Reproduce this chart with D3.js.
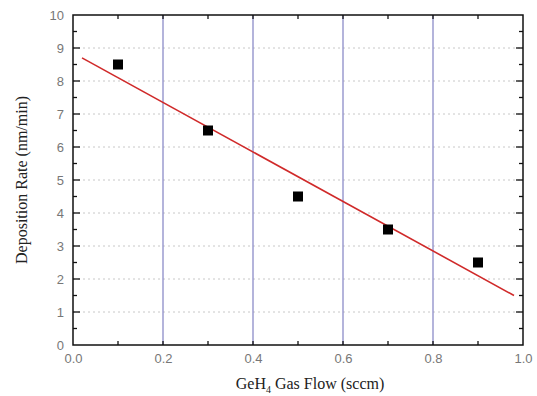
<!DOCTYPE html>
<html>
<head>
<meta charset="utf-8">
<script src="https://cdn.jsdelivr.net/npm/d3@7"></script>
<style>
  body { margin: 0; background: #fff; }
  .tick text { font-family: "Liberation Sans", Arial, sans-serif; font-size: 13px; fill: #777; }
  .title { font-family: "Liberation Serif", "Times New Roman", serif; font-size: 16px; fill: #222; }
</style>
</head>
<body>
<div id="chart"></div>
<script>
// data
var gasFlow = [0.1, 0.3, 0.5, 0.7, 0.9];
var depRate = [8.5, 6.5, 4.5, 3.5, 2.5];
// fitted line endpoints
var fitX = [0.02, 0.98];
var fitY = [8.7, 1.5];
var xTicks = [0, 0.2, 0.4, 0.6, 0.8, 1.0];
var yTicks = [0, 1, 2, 3, 4, 5, 6, 7, 8, 9, 10];
var blueLines = [0.2, 0.4, 0.6, 0.8];

var margin = { left: 73, right: 14, top: 15, bottom: 51 };
var W = 537, H = 396;
var width = W - margin.left - margin.right;
var height = H - margin.top - margin.bottom;

var svg = d3.select("#chart").append("svg")
  .attr("width", W).attr("height", H);
var g = svg.append("g")
  .attr("transform", "translate(" + margin.left + "," + margin.top + ")");

var x = d3.scaleLinear().domain([0, 1]).range([0, width]);
var y = d3.scaleLinear().domain([0, 10]).range([height, 0]);

// dotted horizontal grid
g.selectAll(".hgrid")
  .data(yTicks.filter(function(d) { return d > 0 && d < 10; }))
  .enter().append("line")
  .attr("x1", 0).attr("x2", width)
  .attr("y1", function(d) { return y(d); })
  .attr("y2", function(d) { return y(d); })
  .attr("stroke", "#c8c8c8")
  .attr("stroke-width", 1)
  .attr("stroke-dasharray", "2,3");

// blue vertical lines
g.selectAll(".vgrid")
  .data(blueLines)
  .enter().append("line")
  .attr("x1", function(d) { return x(d); })
  .attr("x2", function(d) { return x(d); })
  .attr("y1", 0).attr("y2", height)
  .attr("stroke", "#8c8cc8")
  .attr("stroke-width", 1.3);

// axes with inward ticks
var xMinor = d3.range(1, 10).map(function(i) { return i / 10; });
var yMinor = d3.range(1, 20).map(function(i) { return i / 2; });

function tickMarks(sel, vals, fn, len) {
  sel.selectAll(null).data(vals).enter().append("line")
    .each(function(d) { fn(d3.select(this), d, len); })
    .attr("stroke", "#111").attr("stroke-width", 1.3);
}
var axG = g.append("g");
tickMarks(axG, xMinor, function(s, d, l) {
  s.attr("x1", x(d)).attr("x2", x(d)).attr("y1", height).attr("y2", height - l);
}, 4);
tickMarks(axG, xMinor, function(s, d, l) {
  s.attr("x1", x(d)).attr("x2", x(d)).attr("y1", 0).attr("y2", l);
}, 4);
tickMarks(axG, yMinor, function(s, d, l) {
  s.attr("x1", 0).attr("x2", (d % 1 === 0 ? 7 : 4)).attr("y1", y(d)).attr("y2", y(d));
}, 4);
tickMarks(axG, yMinor, function(s, d, l) {
  s.attr("x1", width).attr("x2", width - (d % 1 === 0 ? 7 : 4)).attr("y1", y(d)).attr("y2", y(d));
}, 4);

var xAxis = d3.axisBottom(x).tickValues(xTicks).tickSize(0).tickPadding(9)
  .tickFormat(d3.format(".1f"));
var yAxis = d3.axisLeft(y).tickValues(yTicks).tickSize(0).tickPadding(9)
  .tickFormat(d3.format("d"));

g.append("g").attr("transform", "translate(0," + height + ")").call(xAxis)
  .call(function(a) { a.select(".domain").remove(); });
g.append("g").call(yAxis)
  .call(function(a) { a.select(".domain").remove(); });

// frame
g.append("rect")
  .attr("width", width).attr("height", height)
  .attr("fill", "none").attr("stroke", "#111").attr("stroke-width", 1.5);

// fit line
var line = d3.line().x(function(d) { return x(d[0]); }).y(function(d) { return y(d[1]); });
g.append("path")
  .datum(d3.zip(fitX, fitY))
  .attr("d", line)
  .attr("fill", "none")
  .attr("stroke", "#d02a2a")
  .attr("stroke-width", 1.6);

// points
var sq = 10;
g.selectAll(".pt")
  .data(d3.zip(gasFlow, depRate))
  .enter().append("rect")
  .attr("x", function(d) { return x(d[0]) - sq / 2; })
  .attr("y", function(d) { return y(d[1]) - sq / 2; })
  .attr("width", sq).attr("height", sq)
  .attr("fill", "#000");

// axis titles
var xt = svg.append("text").attr("class", "title")
  .attr("x", margin.left + width / 2 + 12).attr("y", 389)
  .attr("text-anchor", "middle");
xt.append("tspan").text("GeH");
xt.append("tspan").attr("dy", 4).attr("font-size", 10).text("4");
xt.append("tspan").attr("dy", -4).text(" Gas Flow (sccm)");

svg.append("text").attr("class", "title")
  .attr("transform", "translate(27," + (margin.top + height / 2) + ") rotate(-90)")
  .attr("text-anchor", "middle")
  .text("Deposition Rate (nm/min)");
</script>
</body>
</html>
